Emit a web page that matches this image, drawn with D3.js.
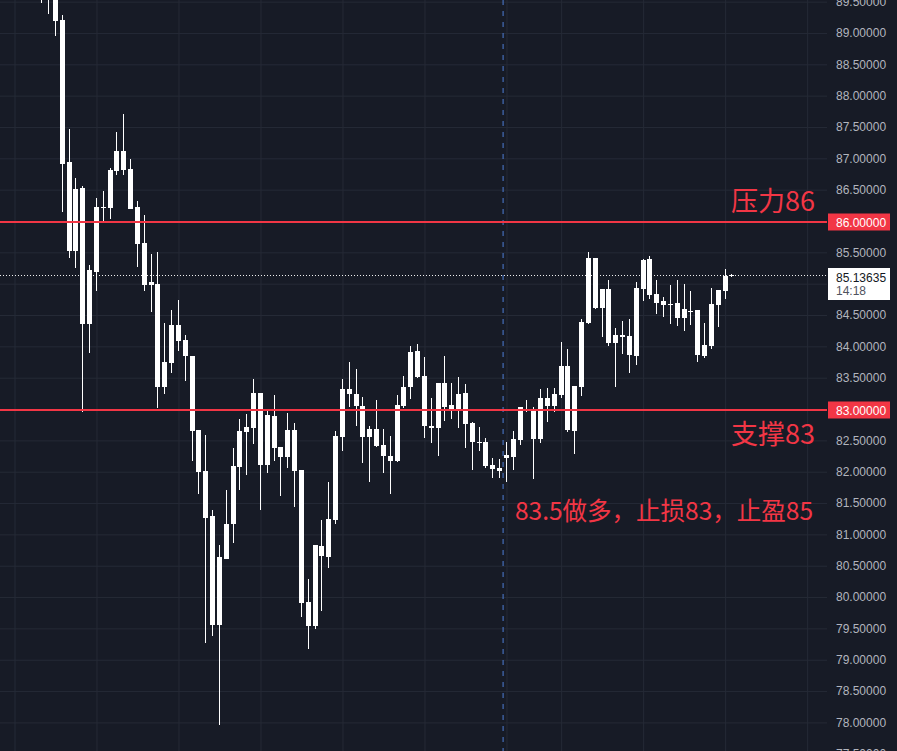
<!DOCTYPE html>
<html>
<head>
<meta charset="utf-8">
<script src="https://cdnjs.cloudflare.com/ajax/libs/d3/7.8.5/d3.min.js"></script>
<style>
html, body { margin: 0; padding: 0; background: #171b26; overflow: hidden; }
svg { display: block; }
</style>
</head>
<body>
<div id="chart"></div>
<script>
// candle data, index of first candle on the time grid
const firstIndex = 3;
const opens = [90.10, 89.90, 89.75, 89.65, 89.21, 86.94, 85.52, 86.53, 84.36, 85.19,
	86.22, 86.21, 86.80, 87.12, 86.83, 86.22, 85.65, 84.98, 84.99, 83.35,
	83.73, 84.34, 84.10, 83.85, 82.67, 82.01, 81.29, 79.55, 80.61, 81.17,
	82.07, 82.63, 82.70, 83.26, 82.11, 82.89, 82.39, 82.23, 82.67, 82.03,
	79.92, 79.54, 80.81, 80.64, 81.23, 82.55, 83.32, 83.24, 83.05, 82.55,
	82.68, 82.43, 82.25, 82.17, 83.05, 83.35, 83.93, 83.53, 82.73, 82.70,
	83.42, 83.06, 83.00, 83.26, 82.78, 82.47, 82.47, 82.11, 82.01, 82.22,
	82.23, 82.51, 83.00, 83.00, 82.52, 83.18, 83.05, 83.22, 83.69, 82.65,
	83.35, 84.37, 85.41, 84.61, 84.91, 84.05, 84.18, 84.16, 83.85, 84.91,
	85.39, 84.84, 84.66, 84.68, 84.69, 84.45, 84.56, 84.58, 83.85, 84.01,
	84.66, 84.88, 85.12];
const highs = [90.30, 90.00, 89.85, 89.70, 89.29, 87.47, 86.69, 86.56, 85.30, 86.37,
	86.48, 86.85, 87.42, 87.71, 86.99, 86.32, 86.10, 85.47, 85.51, 84.37,
	84.58, 84.74, 84.18, 83.85, 82.67, 82.59, 81.39, 80.83, 81.71, 82.38,
	82.84, 82.92, 83.48, 83.26, 82.98, 83.22, 82.39, 82.94, 82.78, 82.03,
	80.29, 80.83, 81.23, 81.84, 82.65, 83.48, 83.75, 83.64, 83.19, 82.73,
	83.14, 82.68, 82.57, 83.22, 83.53, 84.01, 84.04, 83.83, 83.18, 83.42,
	83.85, 83.42, 83.51, 83.40, 82.79, 82.71, 82.54, 82.22, 82.20, 82.47,
	82.65, 83.03, 83.14, 83.03, 83.32, 83.34, 83.34, 84.07, 83.96, 83.37,
	84.44, 85.51, 85.41, 84.91, 85.06, 84.29, 84.40, 84.44, 85.03, 85.39,
	85.44, 85.06, 84.79, 84.98, 85.06, 84.99, 84.88, 84.58, 84.37, 84.93,
	84.90, 85.23, 85.15];
const lows = [89.52, 89.48, 89.30, 88.95, 86.14, 85.41, 85.25, 82.95, 83.89, 84.88,
	85.97, 86.03, 86.73, 86.73, 86.19, 85.27, 84.88, 84.55, 83.02, 83.24,
	83.57, 83.93, 83.45, 82.17, 81.64, 79.27, 79.38, 77.96, 80.61, 80.86,
	81.71, 81.95, 82.44, 81.39, 81.98, 82.17, 81.61, 82.06, 81.44, 79.68,
	79.17, 79.49, 79.78, 80.46, 81.17, 82.33, 83.03, 82.73, 82.14, 81.84,
	82.39, 81.98, 81.64, 82.15, 83.02, 83.16, 83.49, 82.54, 82.46, 82.25,
	82.81, 82.84, 82.70, 82.38, 82.03, 82.33, 82.06, 81.90, 81.90, 81.84,
	82.03, 82.43, 82.95, 81.88, 82.46, 82.79, 82.95, 83.18, 82.63, 82.28,
	83.21, 84.36, 84.60, 84.15, 84.01, 83.35, 83.88, 83.57, 83.70, 84.72,
	84.76, 84.52, 84.47, 84.36, 84.32, 84.24, 84.34, 83.75, 83.81, 83.96,
	84.31, 84.76, 85.11];
const closes = [89.90, 89.72, 89.62, 89.19, 86.91, 85.52, 86.51, 84.36, 85.22, 86.22,
	86.23, 86.81, 87.12, 86.81, 86.19, 85.63, 84.98, 85.03, 83.35, 83.75,
	84.34, 84.09, 83.85, 82.65, 81.99, 81.26, 79.55, 80.64, 81.17, 82.09,
	82.65, 82.71, 83.26, 82.11, 82.90, 82.38, 82.23, 82.67, 82.01, 79.90,
	79.54, 80.83, 80.65, 81.24, 82.57, 83.32, 83.24, 83.05, 82.55, 82.68,
	82.41, 82.25, 82.17, 83.06, 83.35, 83.91, 83.51, 82.73, 82.70, 83.42,
	83.03, 83.00, 83.24, 82.76, 82.47, 82.47, 82.09, 82.04, 82.06, 82.27,
	82.52, 83.03, 83.00, 82.52, 83.18, 83.05, 83.24, 83.69, 82.67, 83.37,
	84.39, 85.41, 84.61, 84.91, 84.05, 84.18, 84.15, 83.86, 84.93, 85.38,
	84.82, 84.69, 84.72, 84.68, 84.45, 84.60, 84.56, 83.86, 84.02, 84.68,
	84.90, 85.12, 85.13635];

const priceTicks = [77.5, 78, 78.5, 79, 79.5, 80, 80.5, 81, 81.5, 82, 82.5, 83, 83.5,
	84, 84.5, 85, 85.5, 86, 86.5, 87, 87.5, 88, 88.5, 89, 89.5];
const hiddenTicks = [83, 85, 86]; // covered by the scale badges
const timeGridIdx = [0, 12, 24, 36, 48, 60, 72, 80, 92, 104, 116];
const levels = [86, 83];
const levelNotes = ["压力86", "支撑83"];
const planNote = "83.5做多，止损83，止盈85";
const planPrice = 81.5;
const lastPrice = 85.13635;
const countdown = "14:18";
const markerIdx = 71.5;

const W = 897, H = 751, paneW = 827;
const red = "#f23645";
const axisFont = "'Liberation Sans', Arial, sans-serif";
const cjkFont = "'Noto Sans CJK SC', sans-serif";

let x = d3.scaleLinear().domain([0, 116]).range([14.5, 14.5 + 116 * 6.8333]);
let y = d3.scaleLinear().domain([78, 86]).range([722.4, 221]);

let candles = opens.map((o, i) => ({
	i: firstIndex + i, o: o, h: highs[i], l: lows[i], c: closes[i]
}));

let svg = d3.select("#chart").append("svg")
	.attr("width", W)
	.attr("height", H)
	.style("background", "#171b26");

// horizontal grid
let hg = svg.append("g")
	.call(d3.axisLeft(y).tickValues(priceTicks).tickSize(-paneW).tickFormat(""));
hg.select(".domain").remove();
hg.selectAll("line").attr("stroke", "#252a36");

// vertical grid
let vg = svg.append("g")
	.call(d3.axisTop(x).tickValues(timeGridIdx).tickSize(-H).tickFormat(""));
vg.select(".domain").remove();
vg.selectAll("line").attr("stroke", "#252a36");

// session marker
svg.append("line")
	.attr("x1", x(markerIdx)).attr("x2", x(markerIdx))
	.attr("y1", 0).attr("y2", H)
	.attr("stroke", "#4f7fd6")
	.attr("stroke-width", 1)
	.attr("stroke-dasharray", "5,6");

// last price dotted line (behind candles)
let yLast = Math.round(y(lastPrice)) + 0.5;
svg.append("line")
	.attr("x1", 0).attr("x2", paneW)
	.attr("y1", yLast).attr("y2", yLast)
	.attr("stroke", "#f0f0f0")
	.attr("stroke-dasharray", "1,2");

// candles
let cg = svg.append("g").attr("shape-rendering", "crispEdges");
cg.selectAll(".wick")
	.data(candles)
	.enter().append("rect")
	.attr("class", "wick")
	.attr("x", d => Math.round(x(d.i) - 2.5) + 2)
	.attr("width", 1)
	.attr("y", d => y(d.h))
	.attr("height", d => Math.max(1, y(d.l) - y(d.h)))
	.attr("fill", "#ffffff");
cg.selectAll(".body")
	.data(candles)
	.enter().append("rect")
	.attr("class", "body")
	.attr("x", d => Math.round(x(d.i) - 2.5))
	.attr("width", 5)
	.attr("y", d => y(Math.max(d.o, d.c)))
	.attr("height", d => Math.max(1, Math.abs(y(d.o) - y(d.c))))
	.attr("fill", "#ffffff");

// support / resistance lines
svg.selectAll(".level")
	.data(levels)
	.enter().append("rect")
	.attr("class", "level")
	.attr("x", 0)
	.attr("width", paneW)
	.attr("y", d => Math.round(y(d)))
	.attr("height", 2)
	.attr("fill", red);

// notes
svg.append("text")
	.attr("x", 815).attr("y", y(levels[0]) - 10)
	.attr("text-anchor", "end")
	.style("font", "27px " + cjkFont)
	.attr("fill", red)
	.text(levelNotes[0]);
svg.append("text")
	.attr("x", 815).attr("y", y(levels[1]) + 35)
	.attr("text-anchor", "end")
	.style("font", "27px " + cjkFont)
	.attr("fill", red)
	.text(levelNotes[1]);
svg.append("text")
	.attr("x", 813).attr("y", y(planPrice) + 17)
	.attr("text-anchor", "end")
	.style("font", "24.5px " + cjkFont)
	.attr("fill", red)
	.text(planNote);

// price scale
let pa = svg.append("g")
	.attr("transform", "translate(828,0)")
	.call(d3.axisRight(y).tickValues(priceTicks.filter(t => !hiddenTicks.includes(t)))
		.tickSize(0).tickPadding(8)
		.tickFormat(d3.format(".5f")));
pa.select(".domain").remove();
pa.selectAll("text")
	.attr("fill", "#b2b5be")
	.style("font", "12px " + axisFont);

// level labels on the scale
levels.forEach(lv => {
	let yc = Math.round(y(lv)) + 1;
	svg.append("rect")
		.attr("x", 828).attr("y", yc - 8.5)
		.attr("width", 62).attr("height", 17)
		.attr("fill", red);
	svg.append("text")
		.attr("x", 836).attr("y", yc + 4.5)
		.attr("fill", "#ffffff")
		.style("font", "12px " + axisFont)
		.text(d3.format(".5f")(lv));
});

// last price label
svg.append("rect")
	.attr("x", 828).attr("y", yLast - 7.5)
	.attr("width", 62).attr("height", 32)
	.attr("fill", "#ffffff");
svg.append("text")
	.attr("x", 836).attr("y", yLast + 6)
	.attr("fill", "#131722")
	.style("font", "12px " + axisFont)
	.text(d3.format(".5f")(lastPrice));
svg.append("text")
	.attr("x", 836).attr("y", yLast + 19)
	.attr("fill", "#50535e")
	.style("font", "12px " + axisFont)
	.text(countdown);
</script>
</body>
</html>
